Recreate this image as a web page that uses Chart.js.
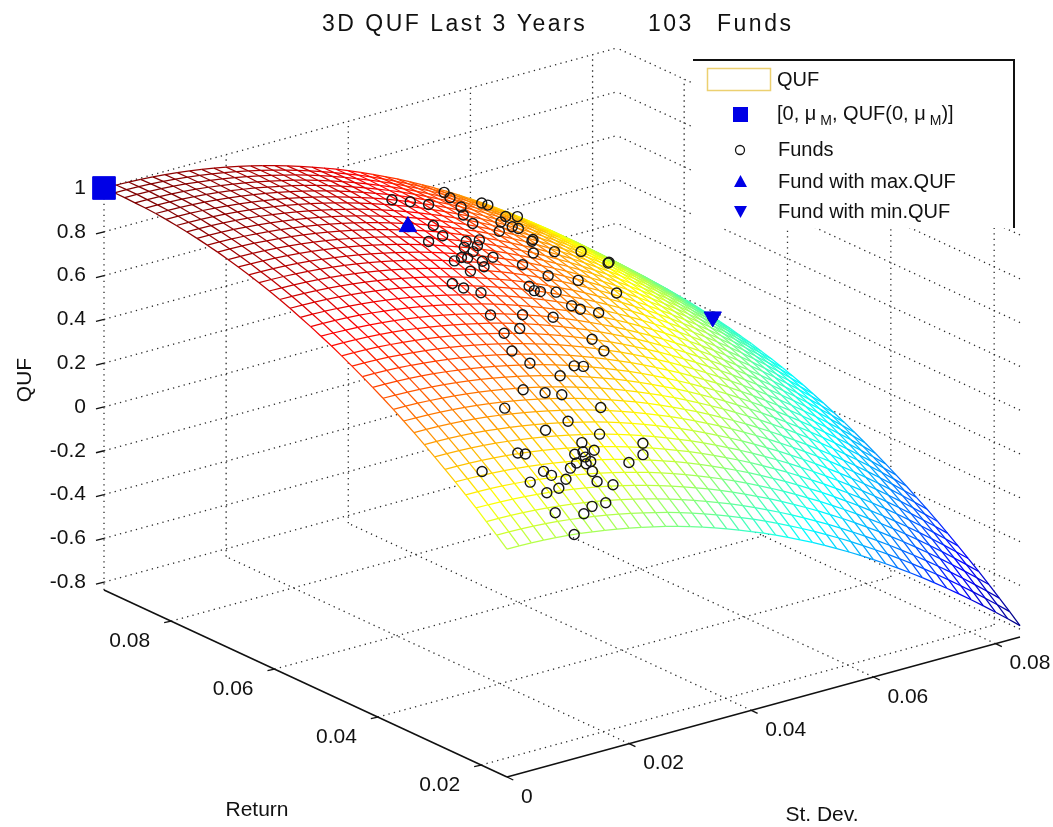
<!DOCTYPE html>
<html>
<head>
<meta charset="utf-8">
<script src="https://cdn.jsdelivr.net/npm/chart.js@4.4.1/dist/chart.umd.min.js"></script>
<style>
  html, body { margin: 0; padding: 0; background: #fff; }
  canvas { display: block; }
</style>
</head>
<body>
<canvas id="quf" width="1053" height="827"></canvas>
<script>
// --- mesh grid (St. Dev. columns, Return rows) ---
const stDevGrid = [0, 0.002, 0.004, 0.006, 0.008, 0.010, 0.012, 0.014, 0.016, 0.018, 0.020,
  0.022, 0.024, 0.026, 0.028, 0.030, 0.032, 0.034, 0.036, 0.038, 0.040, 0.042, 0.044, 0.046,
  0.048, 0.050, 0.052, 0.054, 0.056, 0.058, 0.060, 0.062, 0.064, 0.066, 0.068, 0.070, 0.072,
  0.074, 0.076, 0.078, 0.080, 0.082, 0.084];
const returnGrid = [0.015, 0.017, 0.019, 0.021, 0.023, 0.025, 0.027, 0.029, 0.031, 0.033,
  0.035, 0.037, 0.039, 0.041, 0.043, 0.045, 0.047, 0.049, 0.051, 0.053, 0.055, 0.057, 0.059,
  0.061, 0.063, 0.065, 0.067, 0.069, 0.071, 0.073, 0.075, 0.077, 0.079, 0.081, 0.083, 0.085,
  0.087, 0.089, 0.091, 0.093];
// QUF along the St. Dev. = 0 edge, one value per return row
const qufAtZeroStDev = [0.205, 0.247, 0.287, 0.327, 0.365, 0.402, 0.438, 0.473, 0.507, 0.540,
  0.571, 0.602, 0.631, 0.659, 0.686, 0.712, 0.737, 0.761, 0.783, 0.805, 0.825, 0.845, 0.863,
  0.880, 0.896, 0.910, 0.924, 0.936, 0.948, 0.958, 0.967, 0.975, 0.982, 0.988, 0.993, 0.996,
  0.998, 1.000, 1.000, 0.999];
// how much QUF falls as St. Dev. grows, one value per column
const qufDropByStDev = [0, 0.0006, 0.0022, 0.0050, 0.0090, 0.0140, 0.0202, 0.0275, 0.0359,
  0.0454, 0.0561, 0.0679, 0.0808, 0.0948, 0.1099, 0.1262, 0.1436, 0.1621, 0.1817, 0.2024,
  0.2243, 0.2473, 0.2714, 0.2967, 0.3230, 0.3505, 0.3791, 0.4088, 0.4397, 0.4716, 0.5047,
  0.5389, 0.5743, 0.6107, 0.6483, 0.6870, 0.7268, 0.7677, 0.8098, 0.8530, 0.8973, 0.9427, 0.9892];

// --- funds (103) ---
const fundStDev = [0.054, 0.061, 0.062, 0.037, 0.040, 0.043, 0.050, 0.047, 0.054, 0.055,
  0.056, 0.055, 0.037, 0.032, 0.037, 0.040, 0.040, 0.035, 0.034, 0.036, 0.044, 0.056, 0.065,
  0.070, 0.069, 0.027, 0.028, 0.030, 0.040, 0.041, 0.044, 0.052, 0.0577, 0.0275, 0.033, 0.038,
  0.044, 0.048, 0.0266, 0.041, 0.040, 0.045, 0.041, 0.025, 0.026, 0.033, 0.0345, 0.029, 0.021,
  0.024, 0.0264, 0.0157, 0.0237, 0.023, 0.022, 0.033, 0.0314, 0.012, 0.013, 0.028, 0.0196,
  0.021, 0.0048, 0.0136, 0.0143, 0.021, 0.0205, 0.0104, 0.0139, 0.0116, 0.0226, 0.0193, 0.0106,
  0.0147, 0.0168, 0.011, 0.039, 0.0376, 0.037, 0.032, 0.0325, 0.0204, 0.0217, 0.022, 0.018,
  0.066, 0.059, 0.052, 0.0495, 0.054, 0.0465, 0.024, 0.016, 0.027, 0.031, 0.019, 0.036, 0.042,
  0.046, 0.030, 0.050, 0.032, 0.0836];
const fundReturn = [0.091, 0.092, 0.092, 0.081, 0.081, 0.081, 0.083, 0.079, 0.080, 0.079,
  0.079, 0.075, 0.073, 0.068, 0.067, 0.068, 0.065, 0.064, 0.064, 0.062, 0.064, 0.072, 0.0775,
  0.078, 0.077, 0.0575, 0.0565, 0.0555, 0.058, 0.057, 0.0575, 0.0627, 0.062, 0.0507, 0.051,
  0.051, 0.0545, 0.054, 0.047, 0.047, 0.057, 0.054, 0.0447, 0.0436, 0.0413, 0.041, 0.041, 0.039,
  0.0367, 0.036, 0.0356, 0.034, 0.0312, 0.0277, 0.0263, 0.0277, 0.0258, 0.0271, 0.0268, 0.0245,
  0.0247, 0.0245, 0.0255, 0.024, 0.0233, 0.0233, 0.0218, 0.0228, 0.0214, 0.021, 0.0212, 0.0187,
  0.0182, 0.0175, 0.0184, 0.015, 0.069, 0.066, 0.0635, 0.063, 0.0605, 0.026, 0.0255, 0.0248,
  0.024, 0.091, 0.085, 0.0875, 0.075, 0.074, 0.062, 0.0265, 0.0225, 0.029, 0.0335, 0.030, 0.070,
  0.070, 0.076, 0.048, 0.069, 0.072, 0.074];
const fundQuf = [0.591, 0.478, 0.461, 0.796, 0.764, 0.729, 0.642, 0.672, 0.576, 0.558,
  0.542, 0.543, 0.766, 0.786, 0.732, 0.706, 0.686, 0.731, 0.741, 0.706, 0.632, 0.513, 0.385,
  0.292, 0.307, 0.747, 0.730, 0.704, 0.630, 0.609, 0.578, 0.514, 0.421, 0.674, 0.630, 0.580,
  0.549, 0.492, 0.638, 0.501, 0.621, 0.531, 0.473, 0.606, 0.568, 0.506, 0.492, 0.513, 0.535,
  0.506, 0.483, 0.521, 0.431, 0.377, 0.358, 0.298, 0.279, 0.420, 0.411, 0.283, 0.343, 0.331,
  0.408, 0.358, 0.342, 0.309, 0.283, 0.346, 0.307, 0.308, 0.259, 0.229, 0.255, 0.227, 0.235,
  0.188, 0.723, 0.719, 0.707, 0.752, 0.728, 0.362, 0.345, 0.330, 0.339, 0.389, 0.508, 0.620,
  0.623, 0.554, 0.585, 0.348, 0.320, 0.371, 0.413, 0.439, 0.760, 0.695, 0.674, 0.623, 0.585,
  0.810, -0.017];
// [St. Dev., Return, QUF] of the zero-risk point
const marketPoint = [0, 0.093, 1.0];

// --- axes ---
const stDevTicks = [0, 0.02, 0.04, 0.06, 0.08];
const stDevTickLabels = ['0', '0.02', '0.04', '0.06', '0.08'];
const returnTicks = [0.02, 0.04, 0.06, 0.08];
const returnTickLabels = ['0.02', '0.04', '0.06', '0.08'];
const qufTicks = [-0.8, -0.6, -0.4, -0.2, 0, 0.2, 0.4, 0.6, 0.8, 1];
const qufTickLabels = ['-0.8', '-0.6', '-0.4', '-0.2', '0', '0.2', '0.4', '0.6', '0.8', '1'];
const SD_RANGE = [0, 0.084];
const RET_RANGE = [0.015, 0.093];
const QUF_RANGE = [-0.836, 1];

// view: where the box corners land on the flat chart plane
const FRONT = { x: 507, y: 777 };
const SD_VEC = { x: 513, y: -140 };
const RET_VEC = { x: -403, y: -187 };
const QUF_HEIGHT = 402;

function project(sd, ret, q) {
  const a = (sd - SD_RANGE[0]) / (SD_RANGE[1] - SD_RANGE[0]);
  const b = (ret - RET_RANGE[0]) / (RET_RANGE[1] - RET_RANGE[0]);
  const c = (q - QUF_RANGE[0]) / (QUF_RANGE[1] - QUF_RANGE[0]);
  return {
    x: FRONT.x + a * SD_VEC.x + b * RET_VEC.x,
    y: FRONT.y + a * SD_VEC.y + b * RET_VEC.y - c * QUF_HEIGHT
  };
}

function jet(t) {
  const f = v => Math.round(255 * Math.max(0, Math.min(1, v)));
  return 'rgb(' + f(1.5 - Math.abs(4 * t - 3)) + ',' + f(1.5 - Math.abs(4 * t - 2)) + ',' +
    f(1.5 - Math.abs(4 * t - 1)) + ')';
}

// surface heights
const surface = returnGrid.map((r, j) => stDevGrid.map((s, i) => qufAtZeroStDev[j] - qufDropByStDev[i]));
const qMin = Math.min(...surface.flat());
const qMax = Math.max(...surface.flat());
const colorOf = q => jet((q - qMin) / (qMax - qMin));

const datasets = [];

// white faces, one strip per return band
for (let j = 0; j < returnGrid.length - 1; j++) {
  const pts = [];
  stDevGrid.forEach((s, i) => pts.push(project(s, returnGrid[j], surface[j][i])));
  for (let i = stDevGrid.length - 1; i >= 0; i--) {
    pts.push(project(stDevGrid[i], returnGrid[j + 1], surface[j + 1][i]));
  }
  datasets.push({
    label: 'face', data: pts, showLine: true, fill: 'shape',
    backgroundColor: '#ffffff', borderColor: 'rgba(0,0,0,0)', borderWidth: 0,
    pointRadius: 0, order: 4
  });
}

function meshLine(pts, qs) {
  return {
    label: 'QUF', data: pts, showLine: true, fill: false, borderWidth: 1.25,
    borderColor: colorOf(qs[0]), pointRadius: 0, order: 3,
    segment: { borderColor: ctx => colorOf((qs[ctx.p0DataIndex] + qs[ctx.p1DataIndex]) / 2) }
  };
}
// lines of constant return
returnGrid.forEach((r, j) => {
  datasets.push(meshLine(stDevGrid.map((s, i) => project(s, r, surface[j][i])), surface[j]));
});
// lines of constant st. dev.
stDevGrid.forEach((s, i) => {
  const qs = returnGrid.map((r, j) => surface[j][i]);
  datasets.push(meshLine(returnGrid.map((r, j) => project(s, r, qs[j])), qs));
});

// funds
datasets.push({
  label: 'Funds',
  data: fundStDev.map((s, k) => project(s, fundReturn[k], fundQuf[k])),
  showLine: false, pointStyle: 'circle', pointRadius: 5, pointBorderWidth: 1.4,
  pointBorderColor: '#151515', pointBackgroundColor: 'rgba(0,0,0,0)', order: 2
});
const iMax = fundQuf.indexOf(Math.max(...fundQuf));
const iMin = fundQuf.indexOf(Math.min(...fundQuf));
datasets.push({
  label: 'Fund with max.QUF',
  data: [project(fundStDev[iMax], fundReturn[iMax], fundQuf[iMax])],
  showLine: false, pointStyle: 'triangle', pointRadius: 10, pointBorderWidth: 1,
  pointBorderColor: '#0000e6', pointBackgroundColor: '#0000e6', order: 1
});
datasets.push({
  label: 'Fund with min.QUF',
  data: [project(fundStDev[iMin], fundReturn[iMin], fundQuf[iMin])],
  showLine: false, pointStyle: 'triangle', pointRotation: 180, pointRadius: 10, pointBorderWidth: 1,
  pointBorderColor: '#0000e6', pointBackgroundColor: '#0000e6', order: 1
});
datasets.push({
  label: 'market',
  data: [project(marketPoint[0], marketPoint[1], marketPoint[2])],
  showLine: false, pointStyle: 'rect', pointRadius: 16, pointBorderWidth: 1,
  pointBorderColor: '#0000e6', pointBackgroundColor: '#0000e6', order: 1
});

const FONT = '"Liberation Sans", Arial, sans-serif';

// dotted back planes, axis lines and ticks
const boxPlugin = {
  id: 'box3d',
  beforeDatasetsDraw(chart) {
    const { ctx, scales } = chart;
    const P = (s, r, q) => {
      const p = project(s, r, q);
      return [scales.x.getPixelForValue(p.x), scales.y.getPixelForValue(p.y)];
    };
    const seg = (a, b) => { ctx.beginPath(); ctx.moveTo(a[0], a[1]); ctx.lineTo(b[0], b[1]); ctx.stroke(); };
    const [s0, s1] = SD_RANGE, [r0, r1] = RET_RANGE, [q0, q1] = QUF_RANGE;
    ctx.save();
    ctx.strokeStyle = '#2b2b2b';
    ctx.lineWidth = 1.3;
    ctx.setLineDash([1.3, 4.2]);
    // floor
    returnTicks.forEach(r => seg(P(s0, r, q0), P(s1, r, q0)));
    stDevTicks.slice(1).forEach(s => seg(P(s, r0, q0), P(s, r1, q0)));
    // wall at max return
    stDevTicks.forEach(s => seg(P(s, r1, q0), P(s, r1, q1)));
    qufTicks.forEach(q => seg(P(s0, r1, q), P(s1, r1, q)));
    // wall at max st. dev.
    returnTicks.forEach(r => seg(P(s1, r, q0), P(s1, r, q1)));
    qufTicks.forEach(q => seg(P(s1, r0, q), P(s1, r1, q)));

    ctx.setLineDash([]);
    ctx.strokeStyle = '#111';
    ctx.lineWidth = 1.6;
    seg(P(s0, r0, q0), P(s0, r1, q0));
    seg(P(s0, r0, q0), P(s1, r0, q0));
    ctx.lineWidth = 1.3;
    qufTicks.forEach(q => { const a = P(s0, r1, q); seg(a, [a[0] - 8, a[1] + 2]); });
    returnTicks.forEach(r => { const a = P(s0, r, q0); seg(a, [a[0] - 7, a[1] + 1.5]); });
    stDevTicks.forEach(s => { const a = P(s, r0, q0); seg(a, [a[0] + 6.3, a[1] + 3]); });
    ctx.restore();
  },
  afterDraw(chart) {
    const { ctx, scales } = chart;
    const P = (s, r, q) => {
      const p = project(s, r, q);
      return [scales.x.getPixelForValue(p.x), scales.y.getPixelForValue(p.y)];
    };
    ctx.save();
    ctx.fillStyle = '#111';
    ctx.textBaseline = 'middle';
    ctx.font = '21px ' + FONT;
    // tick labels
    ctx.textAlign = 'right';
    qufTicks.forEach((q, k) => { const a = P(0, RET_RANGE[1], q); ctx.fillText(qufTickLabels[k], a[0] - 18, a[1]); });
    returnTicks.forEach((r, k) => { const a = P(0, r, QUF_RANGE[0]); ctx.fillText(returnTickLabels[k], a[0] - 21, a[1] + 20); });
    ctx.textAlign = 'left';
    stDevTicks.forEach((s, k) => { const a = P(s, RET_RANGE[0], QUF_RANGE[0]); ctx.fillText(stDevTickLabels[k], a[0] + 14, a[1] + 20); });
    // axis titles
    ctx.textAlign = 'center';
    ctx.fillText('Return', 257, 810);
    ctx.fillText('St. Dev.', 822, 815);
    ctx.save();
    ctx.translate(25, 380);
    ctx.rotate(-Math.PI / 2);
    ctx.fillText('QUF', 0, 0);
    ctx.restore();
    // title
    ctx.textAlign = 'left';
    ctx.font = '23px ' + FONT;
    ctx.letterSpacing = '2.5px';
    ctx.fillText('3D QUF Last 3 Years', 322, 25);
    ctx.fillText('103', 648, 25);
    ctx.fillText('Funds', 717, 25);
    ctx.letterSpacing = '0px';

    // legend
    ctx.fillStyle = '#fff';
    ctx.fillRect(693, 60, 321, 168);
    ctx.strokeStyle = '#111';
    ctx.lineWidth = 2;
    ctx.beginPath();
    ctx.moveTo(693, 60); ctx.lineTo(1014, 60); ctx.lineTo(1014, 228);
    ctx.stroke();
    ctx.strokeStyle = '#ecd070';
    ctx.lineWidth = 1.5;
    ctx.strokeRect(707.5, 68.5, 63, 22);
    ctx.fillStyle = '#0000e6';
    ctx.fillRect(733, 107, 15, 15);
    ctx.beginPath();
    ctx.moveTo(740.5, 175); ctx.lineTo(747, 187); ctx.lineTo(734, 187); ctx.closePath(); ctx.fill();
    ctx.beginPath();
    ctx.moveTo(734, 206); ctx.lineTo(747, 206); ctx.lineTo(740.5, 218); ctx.closePath(); ctx.fill();
    ctx.strokeStyle = '#151515';
    ctx.lineWidth = 1.3;
    ctx.beginPath(); ctx.arc(740, 150, 4.5, 0, Math.PI * 2); ctx.stroke();

    ctx.fillStyle = '#111';
    ctx.font = '20px ' + FONT;
    ctx.fillText('QUF', 777, 80);
    let x = 777;
    const part = (t, dy, font) => { ctx.font = font; ctx.fillText(t, x, 114 + dy); x += ctx.measureText(t).width; };
    part('[0, \u03bc', 0, '20px ' + FONT);
    x += 4;
    part('M', 7, '14px ' + FONT);
    part(', QUF(0, \u03bc', 0, '20px ' + FONT);
    x += 4;
    part('M', 7, '14px ' + FONT);
    part(')]', 0, '20px ' + FONT);
    ctx.font = '20px ' + FONT;
    ctx.fillText('Funds', 778, 150);
    ctx.fillText('Fund with max.QUF', 778, 182);
    ctx.fillText('Fund with min.QUF', 778, 212);
    ctx.restore();
  }
};

new Chart(document.getElementById('quf'), {
  type: 'scatter',
  data: { datasets },
  options: {
    responsive: false,
    animation: false,
    events: [],
    layout: { padding: 0, autoPadding: false },
    elements: { line: { tension: 0 } },
    scales: {
      x: { type: 'linear', min: 0, max: 1053, display: false },
      y: { type: 'linear', min: 0, max: 827, reverse: true, display: false }
    },
    plugins: {
      legend: { display: false },
      tooltip: { enabled: false },
      title: { display: false },
      colors: { enabled: false }
    }
  },
  plugins: [boxPlugin]
});
</script>
</body>
</html>
